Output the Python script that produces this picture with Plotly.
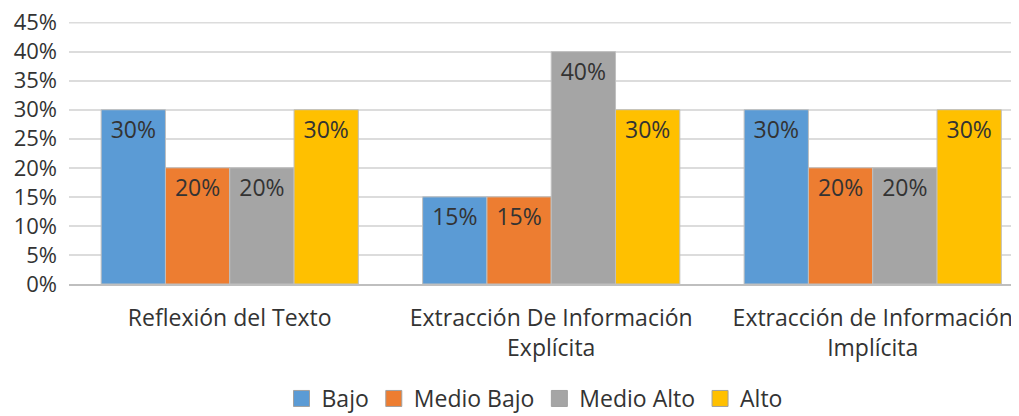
import plotly.graph_objects as go

categories = ["Reflexión del Texto", "Extracción De Información<br>Explícita", "Extracción de Información<br>Implícita"]
series_names = ["Bajo", "Medio Bajo", "Medio Alto", "Alto"]
bajo = [0.30, 0.15, 0.30]
medio_bajo = [0.20, 0.15, 0.20]
medio_alto = [0.20, 0.40, 0.20]
alto = [0.30, 0.30, 0.30]
tick_vals = [0, 0.05, 0.10, 0.15, 0.20, 0.25, 0.30, 0.35, 0.40, 0.45]
tick_text = ["0%", "5%", "10%", "15%", "20%", "25%", "30%", "35%", "40%", "45%"]

colors = ["#5B9BD5", "#ED7D31", "#A5A5A5", "#FFC000"]
values = [bajo, medio_bajo, medio_alto, alto]

FONT = "Open Sans"
TXT = "#333333"
GRID = "#DCDCDC"
fig = go.Figure()
for name, vals, col in zip(series_names, values, colors):
    fig.add_trace(go.Bar(
        name=name, x=categories, y=vals, showlegend=False,
        marker=dict(color=col, line=dict(color="#BFBFBF", width=1)),
        text=[f"{round(v*100)}%" for v in vals],
        textposition="inside", insidetextanchor="end",
        textfont=dict(family=FONT, size=23, color=TXT),
        cliponaxis=False,
    ))
# legend entries with square symbols
for name, col in zip(series_names, colors):
    fig.add_trace(go.Scatter(
        name=name, x=[categories[0]], y=[None], mode="markers",
        marker=dict(symbol="square", size=16, color=col, line=dict(color="#A0A0A0", width=1)),
        showlegend=True, hoverinfo="skip",
    ))

# top gridline (plotly drops the grid line lying on the plot edge)
fig.add_shape(type="line", xref="paper", x0=0, x1=1, yref="y", y0=tick_vals[-1], y1=tick_vals[-1],
              line=dict(color=GRID, width=2), layer="below")

fig.update_layout(
    barmode="group", bargap=0.2, bargroupgap=0,
    width=1011, height=408,
    margin=dict(l=61, r=0, t=14, b=132, autoexpand=False),
    plot_bgcolor="white", paper_bgcolor="white",
    font=dict(family=FONT, size=22, color=TXT),
    showlegend=True,
    legend=dict(orientation="h", x=0.49, xanchor="center", y=-0.355, yanchor="top",
                font=dict(family=FONT, size=23, color=TXT),
                traceorder="normal", itemwidth=30, tracegroupgap=0),
)
fig.update_xaxes(range=[-0.5, 2.455], showgrid=False, showline=True, linecolor="#BFBFBF", linewidth=2,
                 ticks="", automargin=False, ticklabelstandoff=12,
                 tickfont=dict(family=FONT, size=23, color=TXT))
fig.update_yaxes(range=[0, 0.451], tickmode="array", tickvals=tick_vals, ticktext=tick_text, showgrid=True,
                 gridcolor=GRID, gridwidth=2, zeroline=False, showline=False,
                 automargin=False, ticklabelstandoff=11, ticklabeloverflow="allow",
                 tickfont=dict(family=FONT, size=22, color=TXT))

fig.write_html("out.html")
